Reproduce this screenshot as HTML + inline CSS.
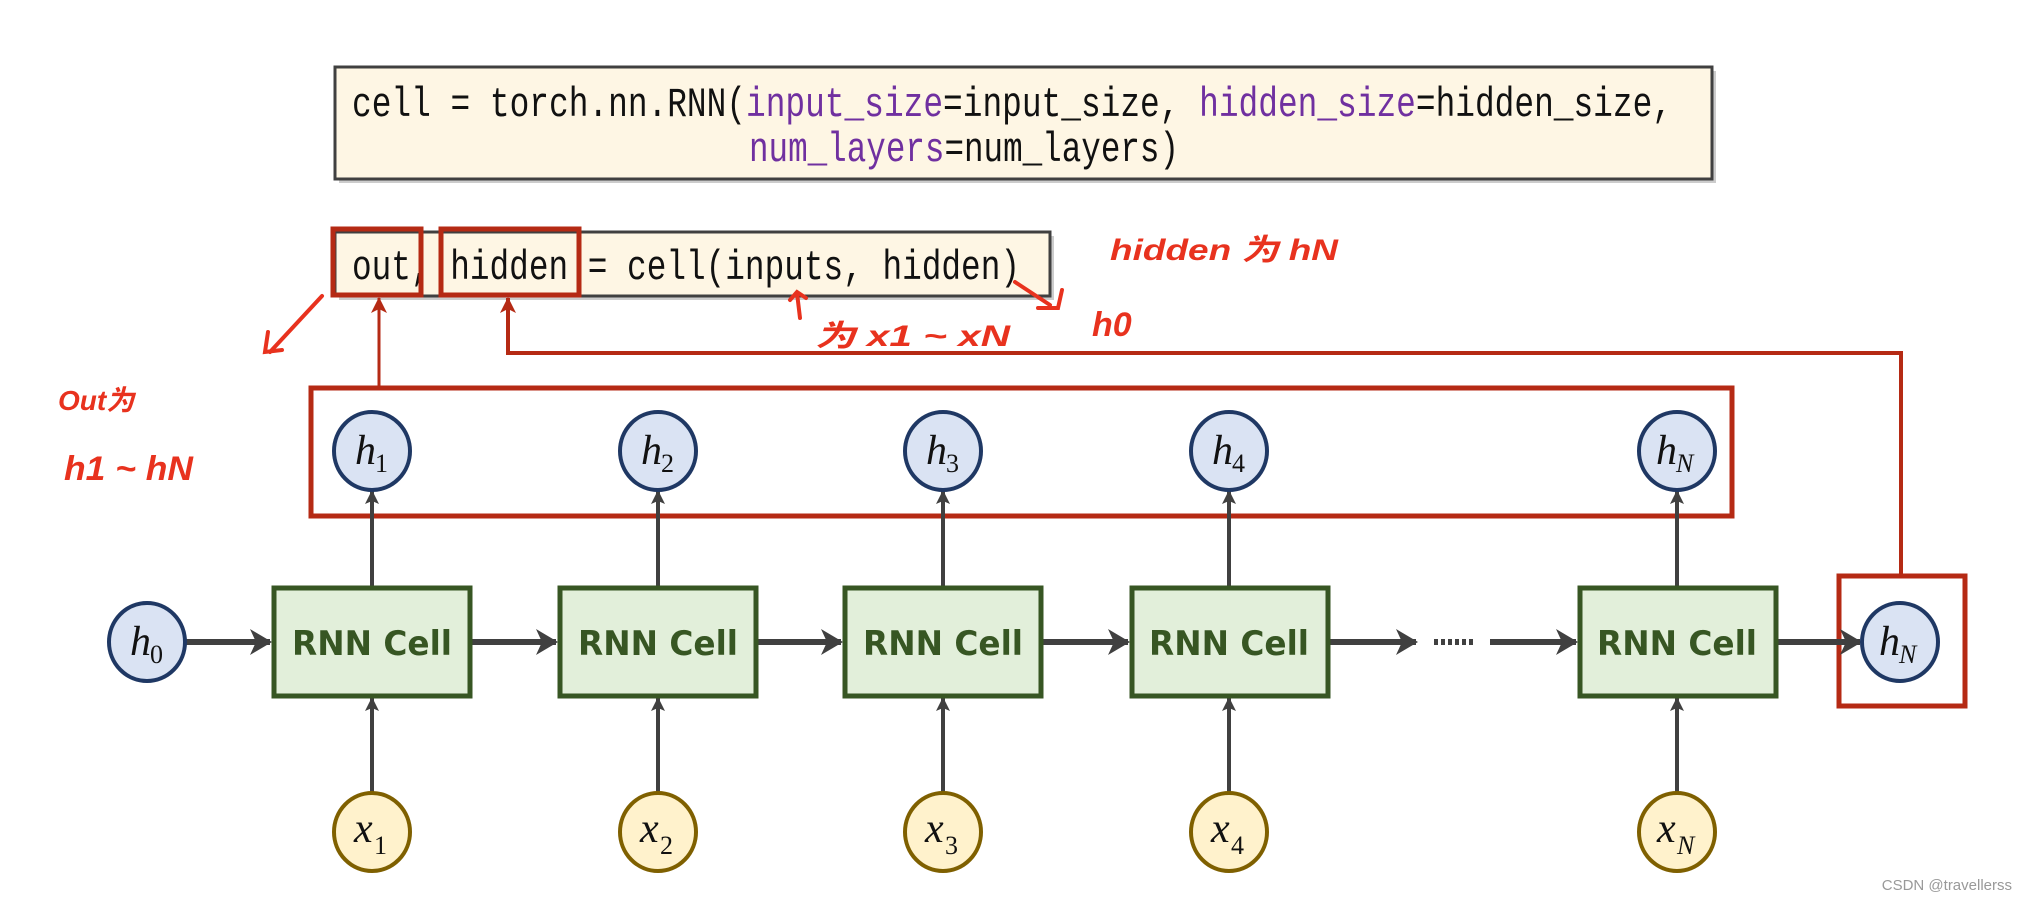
<!DOCTYPE html>
<html><head><meta charset="utf-8"><style>
html,body{margin:0;padding:0;background:#fff;}
svg{display:block;}
.code{font-family:"Liberation Mono","Noto Sans CJK SC",monospace;font-size:42px;fill:#111;}
.p{fill:#7030a0;}
.cell{font-family:"DejaVu Sans","Liberation Sans",sans-serif;font-weight:bold;font-size:34px;fill:#375623;}
.m{font-family:"Liberation Serif",serif;font-style:italic;font-size:42px;fill:#111;}
.s{font-family:"Liberation Serif",serif;font-size:26px;fill:#111;}
.hw{font-family:"Liberation Sans","Noto Sans CJK SC",sans-serif;font-weight:bold;font-style:italic;fill:#e8321e;}
</style></head><body>
<svg width="2018" height="899" viewBox="0 0 2018 899" xmlns="http://www.w3.org/2000/svg">
<defs>
<marker id="agb" markerWidth="22" markerHeight="26" refX="20" refY="13" orient="auto" markerUnits="userSpaceOnUse"><path d="M0,0 L22,13 L0,26 L6,13z" fill="#404040"/></marker>
<marker id="agv" markerWidth="14" markerHeight="18" refX="13" refY="7" orient="auto" markerUnits="userSpaceOnUse"><path d="M0,0 L14,7 L0,14 L3,7z" fill="#404040"/></marker>
<marker id="ar" markerWidth="16" markerHeight="22" refX="15" refY="8" orient="auto" markerUnits="userSpaceOnUse"><path d="M0,0 L16,8 L0,16 L4,8z" fill="#b52a14"/></marker>
</defs>

<rect x="339" y="71" width="1377" height="112" fill="#ccc"/>
<rect x="335" y="67" width="1377" height="112" fill="#fef6e4" stroke="#404040" stroke-width="3"/>
<text class="code" x="352" y="116" textLength="1320" lengthAdjust="spacingAndGlyphs">cell = torch.nn.RNN(<tspan class="p">input_size</tspan>=input_size, <tspan class="p">hidden_size</tspan>=hidden_size,</text>
<text class="code" x="749" y="161" textLength="430" lengthAdjust="spacingAndGlyphs"><tspan class="p">num_layers</tspan>=num_layers)</text>

<rect x="339" y="236" width="715" height="64" fill="#ccc"/>
<rect x="335" y="232" width="715" height="64" fill="#fef6e4" stroke="#404040" stroke-width="3"/>
<text class="code" x="352" y="279" textLength="668" lengthAdjust="spacingAndGlyphs">out, hidden = cell(inputs, hidden)</text>

<rect x="333" y="229" width="88" height="66" fill="none" stroke="#b52a14" stroke-width="5"/>
<rect x="441" y="229" width="138" height="66" fill="none" stroke="#b52a14" stroke-width="5"/>
<line x1="379" y1="388" x2="379" y2="298" stroke="#b52a14" stroke-width="3" marker-end="url(#ar)"/>
<polyline points="1901,577 1901,353 508,353 508,298" fill="none" stroke="#b52a14" stroke-width="4" marker-end="url(#ar)"/>
<rect x="311" y="388" width="1421" height="128" fill="none" stroke="#b52a14" stroke-width="5"/>
<rect x="1839" y="576" width="126" height="130" fill="none" stroke="#b52a14" stroke-width="5"/>

<g stroke="#404040" stroke-width="4" fill="none">
<line x1="372" y1="586" x2="372" y2="491" marker-end="url(#agv)"/>
<line x1="658" y1="586" x2="658" y2="491" marker-end="url(#agv)"/>
<line x1="943" y1="586" x2="943" y2="491" marker-end="url(#agv)"/>
<line x1="1229" y1="586" x2="1229" y2="491" marker-end="url(#agv)"/>
<line x1="1677" y1="586" x2="1677" y2="491" marker-end="url(#agv)"/>
<line x1="372" y1="793" x2="372" y2="698" marker-end="url(#agv)"/>
<line x1="658" y1="793" x2="658" y2="698" marker-end="url(#agv)"/>
<line x1="943" y1="793" x2="943" y2="698" marker-end="url(#agv)"/>
<line x1="1229" y1="793" x2="1229" y2="698" marker-end="url(#agv)"/>
<line x1="1677" y1="793" x2="1677" y2="698" marker-end="url(#agv)"/>
</g>
<g stroke="#404040" stroke-width="6" fill="none">
<line x1="186" y1="642" x2="270" y2="642" marker-end="url(#agb)"/>
<line x1="472" y1="642" x2="556" y2="642" marker-end="url(#agb)"/>
<line x1="758" y1="642" x2="841" y2="642" marker-end="url(#agb)"/>
<line x1="1043" y1="642" x2="1128" y2="642" marker-end="url(#agb)"/>
<line x1="1330" y1="642" x2="1416" y2="642" marker-end="url(#agb)"/>
<line x1="1490" y1="642" x2="1576" y2="642" marker-end="url(#agb)"/>
<line x1="1777" y1="642" x2="1860" y2="642" marker-end="url(#agb)"/>
</g>
<line x1="1434" y1="642" x2="1476" y2="642" stroke="#404040" stroke-width="6" stroke-dasharray="4,3"/>

<g fill="#e2efda" stroke="#375623" stroke-width="5">
<rect x="274" y="588" width="196" height="108"/>
<rect x="560" y="588" width="196" height="108"/>
<rect x="845" y="588" width="196" height="108"/>
<rect x="1132" y="588" width="196" height="108"/>
<rect x="1580" y="588" width="196" height="108"/>
</g>
<g class="cell" text-anchor="middle">
<text x="372" y="655" textLength="160" lengthAdjust="spacingAndGlyphs">RNN Cell</text>
<text x="658" y="655" textLength="160" lengthAdjust="spacingAndGlyphs">RNN Cell</text>
<text x="943" y="655" textLength="160" lengthAdjust="spacingAndGlyphs">RNN Cell</text>
<text x="1229" y="655" textLength="160" lengthAdjust="spacingAndGlyphs">RNN Cell</text>
<text x="1677" y="655" textLength="160" lengthAdjust="spacingAndGlyphs">RNN Cell</text>
</g>

<g fill="#dae3f3" stroke="#1f3864" stroke-width="4">
<ellipse cx="372" cy="451" rx="38" ry="39"/>
<ellipse cx="658" cy="451" rx="38" ry="39"/>
<ellipse cx="943" cy="451" rx="38" ry="39"/>
<ellipse cx="1229" cy="451" rx="38" ry="39"/>
<ellipse cx="1677" cy="451" rx="38" ry="39"/>
<ellipse cx="147" cy="642" rx="38" ry="39"/>
<ellipse cx="1900" cy="642" rx="38" ry="39"/>
</g>
<g fill="#fff2cc" stroke="#7f6000" stroke-width="4">
<ellipse cx="372" cy="832" rx="38" ry="39"/>
<ellipse cx="658" cy="832" rx="38" ry="39"/>
<ellipse cx="943" cy="832" rx="38" ry="39"/>
<ellipse cx="1229" cy="832" rx="38" ry="39"/>
<ellipse cx="1677" cy="832" rx="38" ry="39"/>
</g>
<g>
<text class="m" x="355" y="464">h</text><text class="s" x="375" y="472">1</text>
<text class="m" x="641" y="464">h</text><text class="s" x="661" y="472">2</text>
<text class="m" x="926" y="464">h</text><text class="s" x="946" y="472">3</text>
<text class="m" x="1212" y="464">h</text><text class="s" x="1232" y="472">4</text>
<text class="m" x="1656" y="464">h</text><text class="s" x="1676" y="472" font-style="italic">N</text>
<text class="m" x="130" y="655">h</text><text class="s" x="150" y="663">0</text>
<text class="m" x="1879" y="655">h</text><text class="s" x="1899" y="663" font-style="italic">N</text>
<text class="m" x="354" y="842">x</text><text class="s" x="374" y="854">1</text>
<text class="m" x="640" y="842">x</text><text class="s" x="660" y="854">2</text>
<text class="m" x="925" y="842">x</text><text class="s" x="945" y="854">3</text>
<text class="m" x="1211" y="842">x</text><text class="s" x="1231" y="854">4</text>
<text class="m" x="1657" y="842">x</text><text class="s" x="1677" y="854" font-style="italic">N</text>
</g>

<text class="hw" x="1110" y="260" font-size="30" textLength="228" lengthAdjust="spacingAndGlyphs">hidden 为 hN</text>
<text class="hw" x="1092" y="336" font-size="34">h0</text>
<text class="hw" x="815" y="346" font-size="30" textLength="195" lengthAdjust="spacingAndGlyphs">为 x1 ~ xN</text>
<text class="hw" x="58" y="410" font-size="28">Out为</text>
<text class="hw" x="64" y="480" font-size="34" textLength="129" lengthAdjust="spacingAndGlyphs">h1 ~ hN</text>
<g stroke="#e8321e" stroke-width="4" fill="none" stroke-linecap="round">
<path d="M322,296 L270,352"/>
<path d="M268,332 L265,352 L282,350"/>
<path d="M1015,282 L1050,305"/>
<path d="M1038,308 L1058,308 L1062,290"/>
<path d="M797,293 L800,318"/>
<path d="M790,300 L797,292 L806,298"/>
</g>

<text x="2012" y="890" text-anchor="end" font-family="Liberation Sans, sans-serif" font-size="15" fill="#999">CSDN @travellerss</text>
</svg>
</body></html>
